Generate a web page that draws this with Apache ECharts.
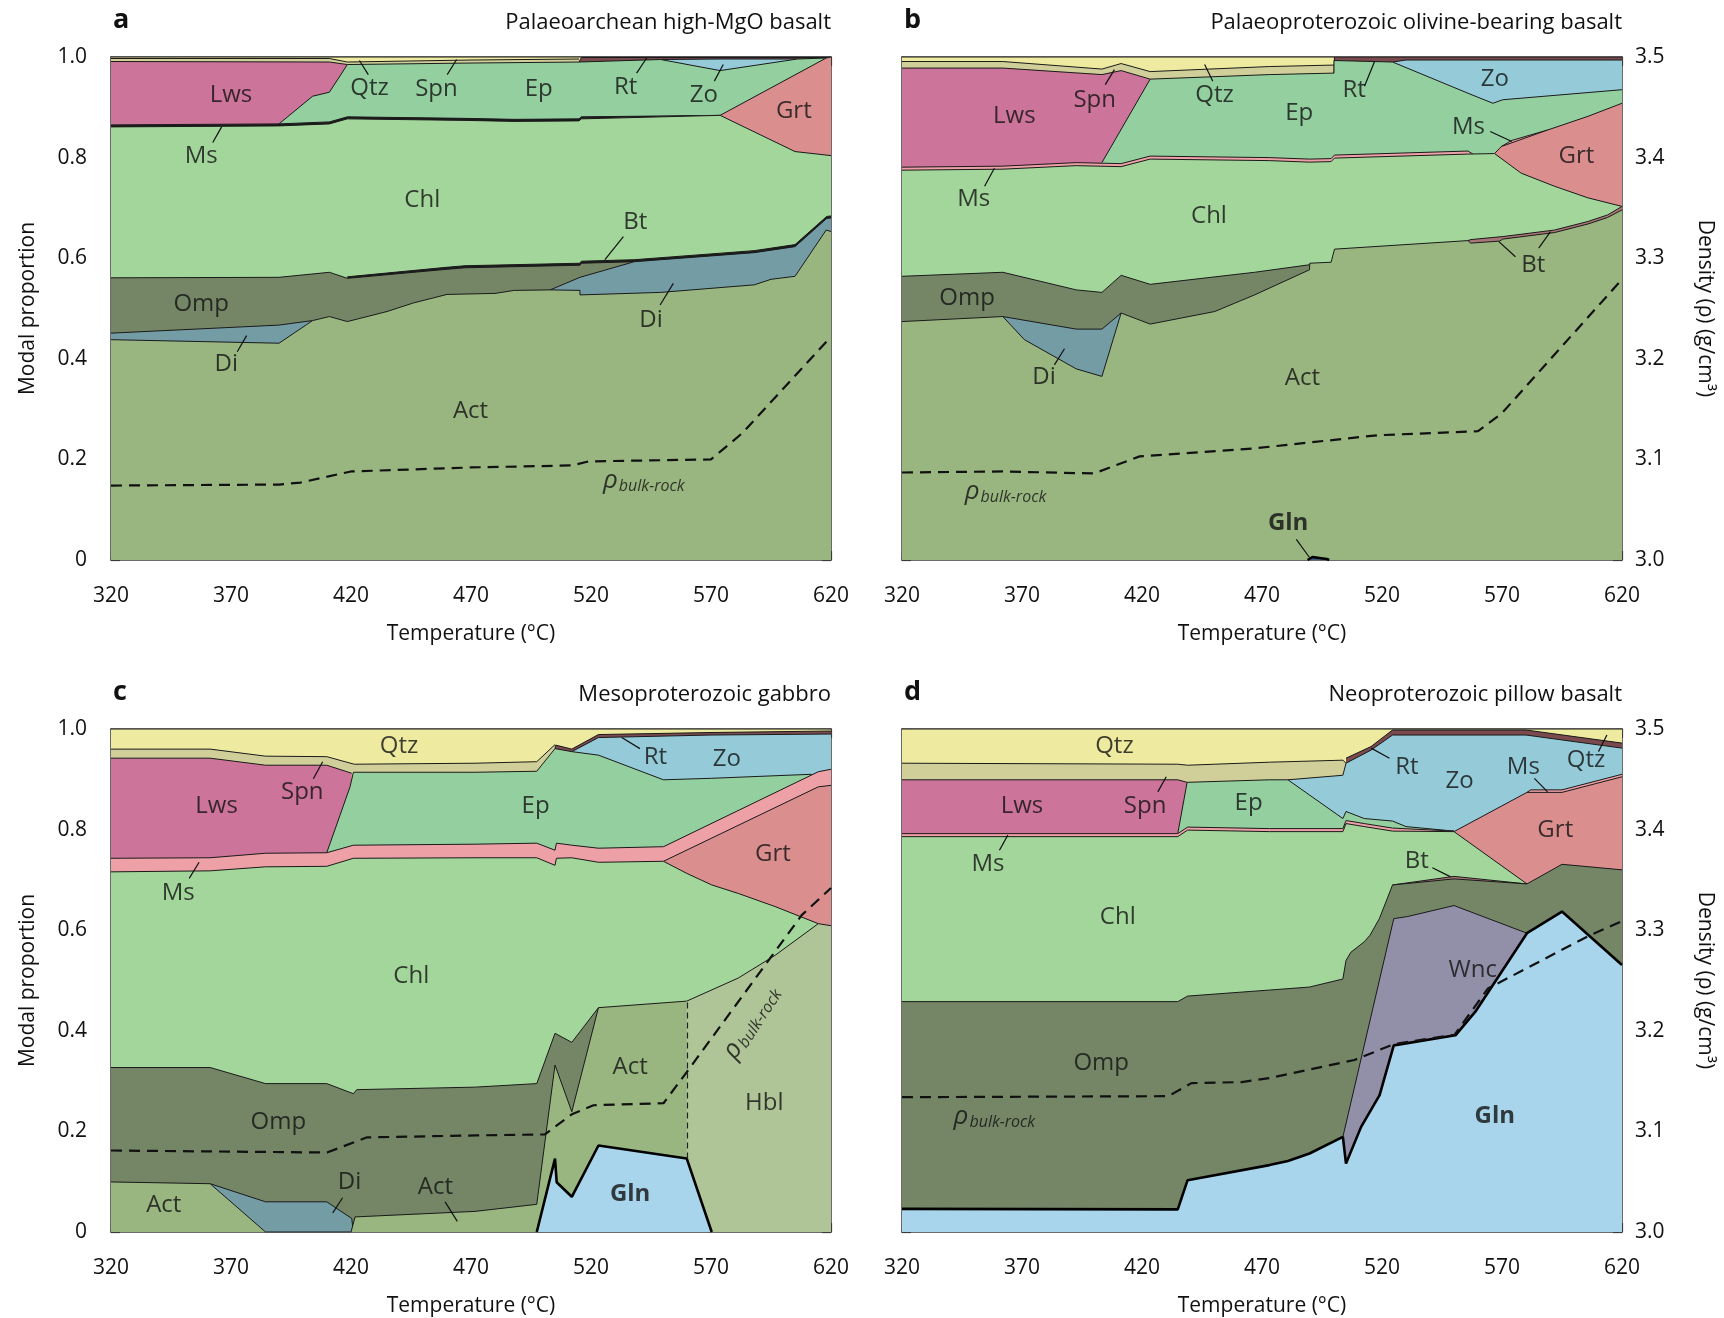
<!DOCTYPE html>
<html>
<head>
<meta charset="utf-8">
<script src="https://cdn.jsdelivr.net/npm/echarts@6/dist/echarts.min.js"></script>
<style>
html, body { margin: 0; padding: 0; background: #fff; }
#chart { width: 1724px; height: 1318px; }
</style>
</head>
<body>
<div id="chart"></div>
<script>
// each mineral array = upper boundary [T (°C), modal proportion]; null splits a mineral into separate lenses

// ---- a: Palaeoarchean high-MgO basalt
const aQtz = [[320, 1], [620, 1]]
const aSpn = [[320, 0.997], [411, 0.997], [418.5, 0.990], [470, 0.994], [515, 0.996]]
const aRt = [[515, 0.990], [516, 0.999], [620, 0.999]]
const aZo = [[549, 0.995], [573.8, 0.996], [606, 0.996]]
const aLws = [[320, 0.991], [411, 0.990], [418.5, 0.985]]
const aEp = [[390, 0.867], [404, 0.922], [411, 0.930], [418.5, 0.985], [470, 0.988], [515, 0.990], [549, 0.995], [573.8, 0.973], [606, 0.996], [618, 0.998]]
const aMs = [[320, 0.865], [390, 0.867], [411, 0.871], [418.5, 0.881], [467.5, 0.878], [488, 0.876], [515, 0.877], [516, 0.881], [573.8, 0.884]]
const aGrt = [[573.8, 0.884], [618, 0.998], [620, 1.0]]
const aChl = [[320, 0.861], [390, 0.863], [411, 0.867], [418.5, 0.877], [467.5, 0.874], [488, 0.872], [515, 0.873], [516, 0.877], [573.8, 0.884], [605, 0.812], [620, 0.804]]
const aBt = [[418.5, 0.563], [460, 0.582], [467.5, 0.585], [515.4, 0.590], [516, 0.594], [538, 0.597], [588, 0.615], [605, 0.627], [618.2, 0.683], [620, 0.684]]
const aOmp = [[320, 0.561], [390, 0.562], [411, 0.572], [418.5, 0.560], [460, 0.578], [467.5, 0.581], [515.4, 0.586], [516, 0.590], [538, 0.593]]
const aDi = [[320, 0.451], [390, 0.467], [404, 0.476], null, [503, 0.537], [515.4, 0.562], [538, 0.593], [588, 0.611], [605, 0.623], [618.2, 0.679], [620, 0.680]]
const aAct = [[320, 0.438], [390, 0.431], [404, 0.476], [411, 0.484], [418.5, 0.474], [435, 0.494], [446, 0.511], [460, 0.528], [480, 0.530], [488, 0.536], [503, 0.537], [515.4, 0.536], [515.4, 0.527], [549, 0.532], [588, 0.547], [595, 0.558], [605, 0.564], [618, 0.656], [620, 0.653]]
const aRhoT = [320, 390, 399, 420, 470, 512, 519, 570, 583, 620]
const aRho = [3.074, 3.075, 3.077, 3.088, 3.092, 3.094, 3.098, 3.100, 3.126, 3.222]
const aLabels = [['Lws', 370, 0.925], ['Qtz', 427.7, 0.938], ['Spn', 455.6, 0.936], ['Ep', 498.2, 0.936], ['Rt', 534.4, 0.941], ['Zo', 567, 0.925], ['Grt', 604.5, 0.893], ['Ms', 357.6, 0.803], ['Chl', 449.7, 0.715], ['Bt', 538.5, 0.672], ['Omp', 357.6, 0.508], ['Di', 368, 0.390], ['Di', 545, 0.477], ['Act', 469.8, 0.296], ['rho', 542, 0.158]]
const aLeaders = [[[427.2, 0.965], [423.5, 0.993]], [[460.1, 0.965], [464, 0.995]], [[539, 0.968], [543.2, 0.998]], [[571.4, 0.952], [575.1, 0.985]], [[362.4, 0.830], [366.1, 0.861]], [[533.5, 0.643], [525.8, 0.597]], [[372.6, 0.414], [376.5, 0.446]], [[548.8, 0.507], [554.3, 0.550]]]

// ---- b: Palaeoproterozoic olivine-bearing basalt
const bQtz = [[320, 1], [500, 1]]
const bSpn = [[320, 0.991], [362, 0.991], [403.3, 0.976], [411.3, 0.987], [423.4, 0.971], [473, 0.981], [500, 0.984]]
const bRt = [[500, 0.968], [500.2, 1], [620, 1]]
const bZo = [[524.4, 0.990], [530, 0.994], [620, 0.994]]
const bLws = [[320, 0.978], [362, 0.978], [403.3, 0.965], [411.3, 0.973], [423.4, 0.956]]
const bEp = [[403.3, 0.790], [423.4, 0.956], [473, 0.965], [500, 0.968], [500, 0.993], [524.4, 0.990], [555.8, 0.928], [566.2, 0.908], [570.3, 0.915], [620, 0.935]]
const bMs = [[320, 0.781], [362, 0.783], [392.6, 0.790], [411.3, 0.788], [423.4, 0.803], [473, 0.800], [489.8, 0.797], [498.8, 0.798], [500.2, 0.805], [555.8, 0.813], [557.9, 0.807], null, [569.7, 0.822], [574, 0.834], [589.1, 0.855]]
const bGrt = [[566.9, 0.808], [569.7, 0.822], [589.1, 0.855], [605.8, 0.882], [620, 0.908]]
const bChl = [[320, 0.775], [362, 0.777], [392.6, 0.784], [411.3, 0.782], [423.4, 0.797], [473, 0.794], [489.8, 0.791], [498.8, 0.792], [500.2, 0.799], [555.8, 0.807], [566.9, 0.808], [578, 0.769], [591.9, 0.743], [605.8, 0.720], [620, 0.703]]
const bBt = [[555.8, 0.635], [557, 0.637], [570.3, 0.643], [591.9, 0.656], [605.8, 0.673], [614, 0.686], [620, 0.703]]
const bOmp = [[320, 0.564], [362, 0.572], [392.6, 0.537], [403.3, 0.532], [411.3, 0.566], [423.4, 0.548], [466.9, 0.572], [489.8, 0.587]]
const bDi = [[362, 0.484], [392.6, 0.459], [403.3, 0.459], [411.3, 0.491]]
const bAct = [[320, 0.474], [362, 0.484], [371, 0.438], [392.6, 0.380], [403.3, 0.365], [411.3, 0.491], [423.4, 0.469], [450.3, 0.494], [466.9, 0.527], [489.8, 0.577], [489.9, 0.590], [498.8, 0.592], [500.2, 0.618], [555.8, 0.635], [557, 0.630], [569, 0.634], [570.3, 0.638], [591.9, 0.651], [605.8, 0.668], [614, 0.681], [620, 0.696]]
const bGln = [[489, 0], [491, 0.006], [497, 0.002], [498, 0]]
const bRhoT = [320, 362, 400, 419, 467, 518, 560, 570, 620]
const bRho = [3.087, 3.088, 3.086, 3.103, 3.111, 3.124, 3.128, 3.146, 3.279]
const bLabels = [['Lws', 366.8, 0.882], ['Spn', 400.3, 0.914], ['Qtz', 450.2, 0.925], ['Ep', 485.5, 0.888], ['Rt', 508.4, 0.934], ['Zo', 567, 0.956], ['Ms', 556, 0.860], ['Grt', 601, 0.803], ['Ms', 349.9, 0.718], ['Chl', 447.9, 0.683], ['Omp', 347.1, 0.521], ['Bt', 583, 0.586], ['Di', 379.2, 0.364], ['Act', 486.8, 0.361], ['rho', 363.1, 0.136], ['Gln', 480.9, 0.073]]
const bLeaders = [[[404.7, 0.945], [408.5, 0.975]], [[449.5, 0.952], [446.1, 0.985]], [[354.4, 0.743], [358.5, 0.779]], [[383.5, 0.388], [387.7, 0.420]], [[512.7, 0.942], [516.9, 0.991]], [[565.1, 0.852], [574.1, 0.832]], [[575.6, 0.603], [568.7, 0.633]], [[585.3, 0.620], [590.2, 0.653]], [[484.3, 0.041], [489.8, 0.005]]]

// ---- c: Mesoproterozoic gabbro
const cQtz = [[320, 1], [620, 1]]
const cSpn = [[320, 0.960], [361.3, 0.960], [384.4, 0.946], [409.9, 0.945], [421.3, 0.930], [471.7, 0.932], [497.4, 0.935], [505, 0.969]]
const cRt = [[505, 0.961], [505.3, 0.968], [512, 0.960], [523.1, 0.989], [570, 0.993], [620, 0.996]]
const cZo = [[512, 0.955], [523.1, 0.983], [570, 0.988], [620, 0.990]]
const cLws = [[320, 0.942], [361.3, 0.942], [384.4, 0.928], [409.9, 0.928], [420.3, 0.912]]
const cEp = [[409.9, 0.754], [419.6, 0.885], [421, 0.914], [471.7, 0.914], [497.4, 0.916], [505, 0.961], [512, 0.955], [523.1, 0.948], [550.2, 0.899], [570.3, 0.902], [612, 0.910]]
const cMs = [[320, 0.743], [361.3, 0.744], [384.4, 0.753], [409.9, 0.754], [421, 0.769], [471.7, 0.771], [497.4, 0.773], [505, 0.759], [505.6, 0.773], [512, 0.769], [523.1, 0.763], [550.2, 0.766], [614.7, 0.915], [620, 0.920]]
const cGrt = [[550.2, 0.737], [614.7, 0.885], [620, 0.888]]
const cChl = [[320, 0.716], [361.3, 0.718], [384.4, 0.726], [409.9, 0.727], [421, 0.743], [471.7, 0.744], [497.4, 0.744], [505, 0.729], [505.6, 0.743], [512, 0.744], [523.1, 0.735], [550.2, 0.737], [559.9, 0.713], [570.3, 0.690], [581.4, 0.673], [596.7, 0.647], [614.7, 0.613]]
const cHbl = [[559.9, 0.459], [581.4, 0.505], [596.7, 0.550], [614.7, 0.613], [620, 0.609]]
const cOmp = [[320, 0.327], [361.3, 0.327], [384.4, 0.295], [409.9, 0.295], [421, 0.275], [422.4, 0.283], [471.7, 0.288], [497.4, 0.295], [505, 0.395], [512, 0.377], [523.1, 0.446]]
const cDi = [[361.3, 0.096], [384.4, 0.060], [409.9, 0.060], [420.3, 0.027], [421, 0]]
const cAct = [[320, 0.0995], [361.3, 0.096], [384.4, 0], [420, 0], [421.7, 0.030], [471.7, 0.041], [497.4, 0.055], [505, 0.332], [512, 0.239], [523.1, 0.446], [559.9, 0.459]]
const cGln = [[497.4, 0], [505, 0.146], [505.7, 0.099], [512, 0.070], [523.1, 0.172], [559.9, 0.146], [570.3, 0]]
const cRhoT = [320, 410, 426.5, 471.7, 500.8, 512, 521, 550.2, 559.9, 607.8, 620]
const cRho = [3.081, 3.079, 3.094, 3.096, 3.097, 3.117, 3.126, 3.128, 3.159, 3.315, 3.342]
const cLabels = [['Qtz', 440, 0.965], ['Rt', 546.8, 0.945], ['Zo', 576.6, 0.941], ['Spn', 399.7, 0.875], ['Lws', 364, 0.847], ['Ep', 496.9, 0.847], ['Grt', 595.8, 0.751], ['Ms', 348, 0.674], ['Chl', 445.1, 0.508], ['Act', 536.3, 0.327], ['Hbl', 592.2, 0.257], ['Omp', 389.7, 0.218], ['Di', 419.4, 0.099], ['Act', 455.2, 0.089], ['Act', 342, 0.054], ['Gln', 536.3, 0.076], ['rhoR', 586.7, 0.417]]
const cLeaders = [[[404.3, 0.901], [408.2, 0.935]], [[352.6, 0.703], [356.7, 0.735]], [[412.4, 0.038], [416.5, 0.068]], [[464.3, 0.021], [459.2, 0.060]], [[540.4, 0.961], [532.8, 0.983]]]
const cDashed = [[[559.9, 0.146], [559.9, 0.459]]]

// ---- d: Neoproterozoic pillow basalt
const dQtz = [[320, 1], [620, 1]]
const dSpn = [[320, 0.932], [434.9, 0.930], [439, 0.928], [473.1, 0.934], [503.7, 0.938], [505, 0.932]]
const dRt = [[505, 0.942], [515.4, 0.965], [524.4, 0.998], [580, 0.998], [620, 0.972]]
const dZo = [[480.8, 0.899], [503.7, 0.908], [505, 0.932], [515.4, 0.958], [524.4, 0.988], [580, 0.988], [620, 0.962]]
const dLws = [[320, 0.899], [434.9, 0.899], [438.8, 0.894]]
const dEp = [[434.9, 0.792], [438.8, 0.894], [473.1, 0.899], [480.8, 0.899], [503.7, 0.822], [505, 0.836], [512.6, 0.822], [524.4, 0.817], [530, 0.806], [550, 0.797]]
const dMs = [[320, 0.792], [434.9, 0.792], [439, 0.805], [473.1, 0.802], [503.7, 0.802], [505, 0.818], [512.6, 0.812], [524.4, 0.803], [550, 0.797], null, [580.4, 0.874], [582, 0.879], [595, 0.879], [620, 0.910]]
const dGrt = [[550, 0.796], [580.4, 0.874], [595, 0.874], [620, 0.905]]
const dChl = [[320, 0.786], [434.9, 0.786], [439, 0.799], [473.1, 0.796], [503.7, 0.796], [505, 0.812], [512.6, 0.806], [524.4, 0.797], [550, 0.796], [580.4, 0.692]]
const dBt = [[524.4, 0.690], [550, 0.707], [580.4, 0.692]]
const dOmp = [[320, 0.458], [434.9, 0.458], [439, 0.469], [473.1, 0.481], [489.8, 0.487], [503.7, 0.503], [505, 0.540], [507, 0.556], [512.6, 0.577], [515, 0.590], [518.9, 0.623], [524.4, 0.690], [550, 0.702], [580.4, 0.692], [595, 0.731], [620, 0.720]]
const dWnc = [[503.7, 0.189], [524.9, 0.623], [530.5, 0.627], [550, 0.649], [580.4, 0.594]]
const dGln = [[320, 0.046], [434.9, 0.045], [439, 0.103], [473.1, 0.133], [480.8, 0.141], [489.8, 0.156], [503.7, 0.189], [505, 0.136], [511.3, 0.209], [519, 0.272], [524.9, 0.371], [550.6, 0.391], [558.9, 0.438], [580.4, 0.594], [595, 0.637], [620, 0.531]]
const dRhoT = [320, 431, 440.6, 461.5, 473, 508.5, 525.2, 550.2, 564.1, 605.8, 620]
const dRho = [3.134, 3.135, 3.148, 3.149, 3.153, 3.171, 3.187, 3.196, 3.242, 3.294, 3.309]
const dLabels = [['Qtz', 408.5, 0.965], ['Rt', 530.4, 0.924], ['Zo', 552.3, 0.897], ['Ms', 578.9, 0.924], ['Qtz', 605, 0.939], ['Lws', 370, 0.847], ['Spn', 421.3, 0.847], ['Ep', 464.4, 0.852], ['Grt', 592.2, 0.799], ['Ms', 355.8, 0.731], ['Bt', 534.5, 0.738], ['Chl', 409.9, 0.626], ['Wnc', 557.8, 0.521], ['Omp', 403, 0.336], ['rho', 358.5, 0.229], ['Gln', 567, 0.231]]
const dLeaders = [[[360.6, 0.759], [364.1, 0.789]], [[426.6, 0.875], [430.1, 0.905]], [[523.1, 0.942], [515.5, 0.962]], [[583.5, 0.902], [589, 0.875]], [[610.2, 0.955], [613.7, 0.988]], [[541, 0.724], [548.6, 0.706]]]

const tempTicks = [320, 370, 420, 470, 520, 570, 620]

// ---- styling
const FONT = '"Open Sans", "Noto Sans", sans-serif'
const INK = '#1a1a1a'
const FRAME = '#3a3a3a'
const fill = {
  Qtz: '#EEEBA1', Spn: '#D1CF99', Lws: '#CC7499', Ep: '#94CFA0', Zo: '#95CBD9', Rt: '#7A4A4F',
  Ms: '#EDA1A7', Grt: '#DA8E8E', Chl: '#A3D69B', Bt: '#A87676', Omp: '#748666', Di: '#739CA5',
  Act: '#99B680', Hbl: '#AFC598', Gln: '#A8D5EC', Wnc: '#928FA8'
}

const panels = [
  {
    letter: 'a', title: 'Palaeoarchean high-MgO basalt', left: 111, top: 57, leftSide: true,
    layers: [['Act', aAct], ['Di', aDi], ['Omp', aOmp], ['Bt', aBt], ['Chl', aChl], ['Grt', aGrt], ['Ms', aMs], ['Ep', aEp], ['Lws', aLws], ['Zo', aZo], ['Rt', aRt], ['Spn', aSpn], ['Qtz', aQtz]],
    override: { Ms: '#1c1c1c', Bt: '#1c1c1c' },
    rhoT: aRhoT, rho: aRho, labels: aLabels, leaders: aLeaders, dashed: []
  },
  {
    letter: 'b', title: 'Palaeoproterozoic olivine-bearing basalt', left: 902, top: 57, leftSide: false,
    layers: [['Gln', bGln], ['Act', bAct], ['Di', bDi], ['Omp', bOmp], ['Bt', bBt], ['Chl', bChl], ['Grt', bGrt], ['Ms', bMs], ['Ep', bEp], ['Lws', bLws], ['Zo', bZo], ['Rt', bRt], ['Spn', bSpn], ['Qtz', bQtz]],
    override: { Gln: '#3d5a78' },
    rhoT: bRhoT, rho: bRho, labels: bLabels, leaders: bLeaders, dashed: []
  },
  {
    letter: 'c', title: 'Mesoproterozoic gabbro', left: 111, top: 729, leftSide: true,
    layers: [['Gln', cGln], ['Act', cAct], ['Di', cDi], ['Omp', cOmp], ['Hbl', cHbl], ['Chl', cChl], ['Grt', cGrt], ['Ms', cMs], ['Ep', cEp], ['Lws', cLws], ['Zo', cZo], ['Rt', cRt], ['Spn', cSpn], ['Qtz', cQtz]],
    override: {},
    rhoT: cRhoT, rho: cRho, labels: cLabels, leaders: cLeaders, dashed: cDashed
  },
  {
    letter: 'd', title: 'Neoproterozoic pillow basalt', left: 902, top: 729, leftSide: false,
    layers: [['Gln', dGln], ['Wnc', dWnc], ['Omp', dOmp], ['Bt', dBt], ['Chl', dChl], ['Grt', dGrt], ['Ms', dMs], ['Ep', dEp], ['Lws', dLws], ['Zo', dZo], ['Rt', dRt], ['Spn', dSpn], ['Qtz', dQtz]],
    override: {},
    rhoT: dRhoT, rho: dRho, labels: dLabels, leaders: dLeaders, dashed: []
  }
]

const PW = 720, PH = 503

const splitSegments = pts => {
  const segs = [[]]
  pts.forEach(p => { if (p === null) segs.push([]); else segs[segs.length - 1].push(p) })
  return segs.filter(s => s.length > 1)
}

const tickStyle = { show: true, inside: true, length: 9, lineStyle: { color: FRAME, width: 1.2 } }
const minorStyle = { show: true, splitNumber: 5, length: 5, lineStyle: { color: FRAME, width: 1 } }
const lineAxis = { show: true, lineStyle: { color: FRAME, width: 1.5 } }
const labelText = { fontFamily: FONT, fontSize: 21, color: '#111' }

const grid = [], xAxis = [], yAxis = [], series = [], title = []

panels.forEach((p, i) => {
  grid.push({ left: p.left, top: p.top, width: PW, height: PH, containLabel: false })

  const xBase = { gridIndex: i, type: 'value', min: 320, max: 620, interval: 50, splitLine: { show: false }, axisLine: lineAxis, axisTick: tickStyle, minorTick: minorStyle }
  xAxis.push(Object.assign({}, xBase, {
    position: 'bottom',
    axisLabel: Object.assign({ margin: 26, formatter: v => tempTicks.includes(v) ? String(v) : '' }, labelText),
    name: 'Temperature (°C)', nameLocation: 'middle', nameGap: 64, nameTextStyle: labelText
  }))
  xAxis.push(Object.assign({}, xBase, { position: 'top', axisLabel: { show: false } }))

  yAxis.push({
    gridIndex: i, type: 'value', position: 'left', min: 0, max: 1, interval: 0.2,
    splitLine: { show: false }, axisLine: lineAxis, axisTick: tickStyle, minorTick: minorStyle,
    axisLabel: Object.assign({ show: p.leftSide, margin: 24, formatter: v => v === 0 ? '0' : v.toFixed(1) }, labelText),
    name: p.leftSide ? 'Modal proportion' : '', nameLocation: 'middle', nameGap: 72, nameTextStyle: labelText
  })
  yAxis.push({
    gridIndex: i, type: 'value', position: 'right', min: 3.0, max: 3.5, interval: 0.1,
    splitLine: { show: false }, axisLine: lineAxis, axisTick: tickStyle, minorTick: minorStyle,
    axisLabel: Object.assign({ show: !p.leftSide, margin: 13, formatter: v => v.toFixed(1) }, labelText),
    name: p.leftSide ? '' : 'Density (ρ) (g/cm³)', nameLocation: 'middle', nameRotate: -90, nameGap: 72, nameTextStyle: labelText
  })

  // mineral fields, drawn from the top layer down so every lower field covers the rest
  const order = p.layers.slice().reverse()
  order.forEach(([name, pts], k) => {
    splitSegments(pts).forEach(seg => {
      series.push({
        type: 'line', xAxisIndex: 2 * i, yAxisIndex: 2 * i, data: seg,
        symbol: 'none', silent: true, animation: false, z: 2 + k,
        lineStyle: { color: name === 'Gln' ? '#000' : INK, width: name === 'Gln' ? 2.6 : 1 },
        areaStyle: { color: p.override[name] || fill[name], opacity: 1 }
      })
    })
  })

  // bulk-rock density on the right-hand axis
  series.push({
    type: 'line', xAxisIndex: 2 * i, yAxisIndex: 2 * i + 1, symbol: 'none', silent: true, animation: false, z: 40,
    data: p.rhoT.map((t, k) => [t, p.rho[k]]),
    lineStyle: { color: '#111', width: 2.2, type: [11, 7] }
  })

  // leader lines and dashed Act/Hbl boundary
  series.push({
    type: 'lines', coordinateSystem: 'cartesian2d', xAxisIndex: 2 * i, yAxisIndex: 2 * i, silent: true, animation: false, z: 45,
    data: p.leaders.map(c => ({ coords: c })),
    lineStyle: { color: '#111', width: 1.2, opacity: 1 }
  })
  if (p.dashed.length) {
    series.push({
      type: 'lines', coordinateSystem: 'cartesian2d', xAxisIndex: 2 * i, yAxisIndex: 2 * i, silent: true, animation: false, z: 45,
      data: p.dashed.map(c => ({ coords: c })),
      lineStyle: { color: '#222', width: 1.2, type: [6, 4], opacity: 1 }
    })
  }

  // mineral names
  series.push({
    type: 'scatter', xAxisIndex: 2 * i, yAxisIndex: 2 * i, symbolSize: 0, silent: true, animation: false, z: 50,
    data: p.labels.map(([name, t, v]) => {
      const item = { value: [t, v], name }
      if (name === 'rho' || name === 'rhoR') {
        item.label = {
          formatter: '{r|ρ}{s|bulk-rock}', rotate: name === 'rhoR' ? 57 : 0,
          rich: {
            r: { fontFamily: FONT, fontSize: 26, fontStyle: 'italic', color: '#111' },
            s: { fontFamily: FONT, fontSize: 16, fontStyle: 'italic', color: '#111', padding: [12, 0, 0, 1] }
          }
        }
      } else if (name === 'Gln') {
        item.label = { fontWeight: 'bold' }
      }
      return item
    }),
    label: { show: true, position: 'inside', formatter: '{b}', fontFamily: FONT, fontSize: 24, color: '#111' }
  })

  title.push({ text: p.letter, left: p.left + 2, top: p.top - 50, padding: 0, textStyle: { fontFamily: FONT, fontSize: 27, fontWeight: 'bold', color: '#111' } })
  title.push({ text: p.title, right: 1724 - (p.left + PW), top: p.top - 45, padding: 0, textStyle: { fontFamily: FONT, fontSize: 22, fontWeight: 'normal', color: '#111' } })
})

const chart = echarts.init(document.getElementById('chart'), null, { renderer: 'canvas' })
chart.setOption({
  backgroundColor: '#fff',
  animation: false,
  title, grid, xAxis, yAxis, series
})
</script>
</body>
</html>
